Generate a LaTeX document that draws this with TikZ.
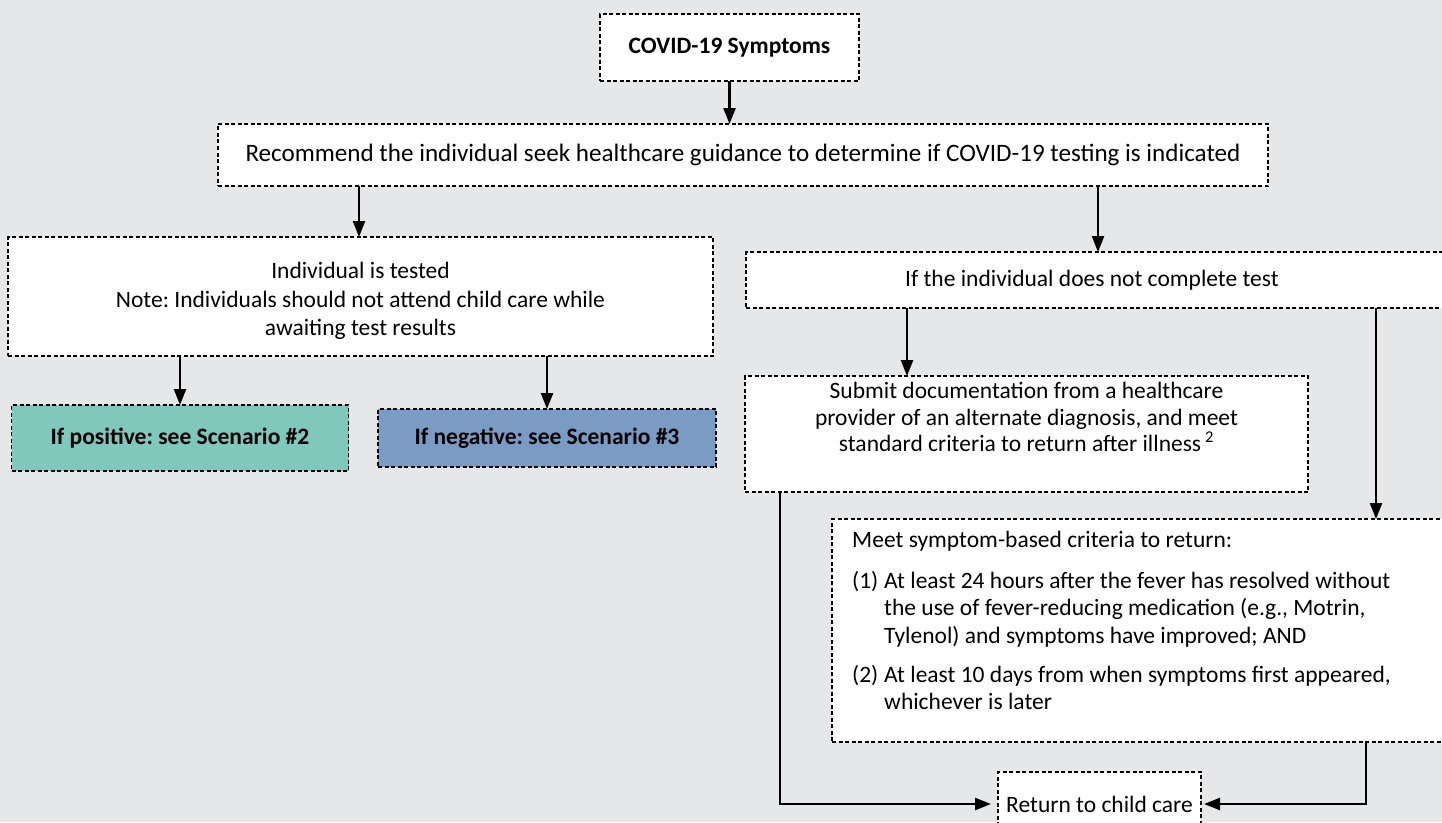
\documentclass[tikz,border=0pt]{standalone}
\usepackage{fontspec}
\setmainfont{Carlito}
\usetikzlibrary{arrows.meta}
\definecolor{bgc}{HTML}{E6E7E8}
\definecolor{posc}{HTML}{7FC8BB}
\definecolor{negc}{HTML}{7A9BC3}
\frenchspacing
\begin{document}
\begin{tikzpicture}[x=1pt,y=-1pt,
  box/.style={draw=black, line width=1.1pt, dash pattern=on 4pt off 2.5pt, fill=white, inner sep=0pt, outer sep=0pt},
  arr/.style={line width=2.4pt, -{Triangle[width=12pt,length=16pt]}},
  txt/.style={font=\fontsize{23.5}{28.5}\selectfont, align=center, inner sep=0pt},
  btxt/.style={font=\bfseries\fontsize{23.5}{28.5}\selectfont, align=center, inner sep=0pt}]
\path[use as bounding box, fill=bgc] (0,0) rectangle (1442,822);
\clip (0,0) rectangle (1442,822);

% boxes
\node[box, minimum width=259, minimum height=67] (covid) at (729.5,47.5) {};
\node[btxt] (covidt) at (729.5,48) {COVID-19 Symptoms};

\node[box, minimum width=1050, minimum height=62] (rec) at (743,155) {};
\node[txt, font=\fontsize{25.1}{30}\selectfont] (rect) at (743,155) {Recommend the individual seek healthcare guidance to determine if COVID-19 testing is indicated};

\node[box, minimum width=705, minimum height=119] (tested) at (360.5,296.5) {};
\node[txt] (testedt) at (360.5,301) {Individual is tested\\Note: Individuals should not attend child care while\\awaiting test results};

\node[box, fill=posc, minimum width=337, minimum height=66] (pos) at (180,438) {};
\node[btxt] (post) at (180,438) {If positive: see Scenario \#2};

\node[box, fill=negc, minimum width=338, minimum height=58] (neg) at (547,438) {};
\node[btxt] (negt) at (547,438) {If negative: see Scenario \#3};

\node[box, minimum width=704, minimum height=56] (ifn) at (1098,280) {};
\node[txt] (ifnt) at (1092,280) {If the individual does not complete test};

\node[box, minimum width=563, minimum height=116] (submit) at (1026.5,434) {};
\node[txt, font=\fontsize{23.5}{26.5}\selectfont] (submitt) at (1026.5,417) {Submit documentation from a healthcare\\provider of an alternate diagnosis, and meet\\standard criteria to return after illness\hspace{4pt}\textsuperscript{2}};

\node[box, minimum width=618, minimum height=223] (meet) at (1141,630.5) {};
\node[txt, align=left, anchor=north west, font=\fontsize{23.5}{27.5}\selectfont] (meett) at (852,528) {\strut Meet symptom-based criteria to return:\\[13.5pt]
\makebox[32pt][l]{(1)}At least 24 hours after the fever has resolved without\\
\hspace*{32pt}the use of fever-reducing medication (e.g., Motrin,\\
\hspace*{32pt}Tylenol) and symptoms have improved; AND\\[11.5pt]
\makebox[32pt][l]{(2)}At least 10 days from when symptoms first appeared,\\
\hspace*{32pt}whichever is later};

\node[box, minimum width=203, minimum height=64] (ret) at (1099.5,804) {};
\node[txt] (rett) at (1099.5,804) {Return to child care};

% connector anchor points
\coordinate (subin) at ([xshift=-119.5pt]submit.north);
\coordinate (meetin) at ([xshift=235pt]meet.north);
\coordinate (subout) at ([xshift=-246.5pt]submit.south);
\coordinate (meetout) at ([xshift=225pt]meet.south);
\coordinate (recl) at ([xshift=-384pt]rec.south);

% connectors
\draw[arr] (covid.south) -- (rec.north -| covid.south);
\draw[arr] (recl) -- (tested.north -| recl);
\draw[arr] (rec.south -| ifn.north) -- (ifn.north);
\draw[arr] (tested.south -| pos.north) -- (pos.north);
\draw[arr] (tested.south -| neg.north) -- (neg.north);
\draw[arr] (ifn.south -| subin) -- (subin);
\draw[arr] (ifn.south -| meetin) -- (meetin);
\draw[arr, shorten >=7pt] (subout) |- (ret.west);
\draw[arr, shorten >=3pt] (meetout) |- (ret.east);
\end{tikzpicture}
\end{document}
